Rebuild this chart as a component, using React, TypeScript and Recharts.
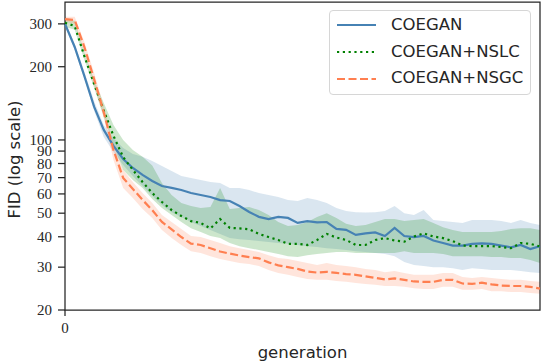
import { ComposedChart, Line, Area, XAxis, YAxis, Legend, ReferenceArea } from 'recharts'

// generations 0..49
const generations = [
  0, 1, 2, 3, 4, 5, 6, 7, 8, 9, 10, 11, 12, 13, 14, 15, 16, 17, 18, 19,
  20, 21, 22, 23, 24, 25, 26, 27, 28, 29, 30, 31, 32, 33, 34, 35, 36, 37, 38, 39,
  40, 41, 42, 43, 44, 45, 46, 47, 48, 49,
]

// COEGAN (mean + band)
const coegan = [
  300, 241, 183, 137, 110, 94.5, 83.5, 76.7, 71.8, 67.8,
  64.7, 63.5, 62.3, 60.5, 59.4, 58.3, 56.6, 56.1, 53.5, 50.6,
  48.3, 47.3, 48.3, 47.8, 45.6, 46.4, 45.8, 46.0, 43.1, 42.7,
  40.7, 41.3, 41.7, 40.3, 43.5, 40.3, 39.9, 40.3, 38.6, 37.7,
  36.8, 36.8, 37.4, 37.6, 37.4, 36.8, 36.2, 37.0, 35.6, 36.6,
]
const coeganLo = [
  292, 234.8, 178.4, 131.7, 102.9, 89.3, 78.9, 71.1, 64.6, 58.8,
  54.0, 50.5, 48.2, 46.0, 44.3, 42.6, 41.1, 39.5, 39.1, 38.8,
  38.4, 38.1, 37.7, 37.4, 37.0, 36.6, 36.3, 35.9, 35.6, 35.3,
  34.9, 34.6, 34.3, 34.0, 33.3, 31.5, 30.6, 30.3, 30.0, 30.0,
  29.7, 29.2, 29.7, 29.5, 29.2, 29.2, 29.2, 28.9, 28.6, 28.4,
]
const coeganHi = [
  309, 248.7, 190.6, 144.7, 115.3, 101.9, 92.7, 87.6, 85.2, 82.0,
  78.2, 74.6, 71.1, 69.8, 68.5, 67.2, 66.5, 63.5, 63.5, 62.3,
  60.5, 59.4, 58.3, 56.6, 56.1, 57.7, 56.6, 55.1, 52.5, 51.0,
  50.5, 50.3, 50.5, 51.0, 53.5, 50.0, 49.1, 51.5, 46.9, 46.4,
  46.0, 45.6, 46.9, 46.9, 46.9, 46.4, 45.6, 46.9, 45.6, 44.7,
]

// COEGAN+NSLC
const nslc = [
  303, 294, 221, 170, 132, 104, 85, 75.3, 67.2, 60.5,
  55.6, 51.5, 48.7, 46.4, 45.6, 43.3, 47.3, 43.5, 43.3, 42.9,
  41.1, 39.9, 38.8, 37.4, 37.4, 37.0, 38.8, 41.1, 39.7, 38.8,
  37.0, 37.0, 38.8, 39.5, 38.6, 38.2, 40.1, 41.3, 40.1, 39.5,
  38.4, 36.8, 36.6, 36.6, 36.6, 36.3, 35.9, 37.7, 37.4, 36.5,
]
const nslcLo = [
  292, 284, 213.5, 164, 124.4, 95.4, 75.3, 68.5, 63.5, 57.2,
  52.5, 49.1, 46.0, 43.4, 41.8, 40.3, 39.5, 37.7, 36.6, 35.9,
  35.3, 34.6, 34.0, 33.3, 33.0, 33.6, 34.0, 34.3, 34.6, 34.6,
  34.3, 34.3, 34.3, 34.3, 34.3, 34.9, 34.3, 34.3, 34.3, 34.0,
  33.3, 33.3, 33.3, 33.3, 33.0, 33.0, 32.7, 32.7, 32.1, 31.2,
]
const nslcHi = [
  312, 309, 230, 176.7, 141.9, 115.3, 100, 91, 85.2, 78.5,
  66.5, 59.4, 55.1, 53.5, 52.5, 53.0, 63.5, 52.0, 52.5, 53.0,
  51.5, 49.1, 46.0, 44.3, 44.7, 46.0, 48.2, 50.0, 47.8, 45.2,
  44.3, 44.7, 46.0, 47.3, 47.3, 46.4, 46.9, 47.3, 45.6, 43.8,
  42.6, 41.8, 41.8, 41.8, 41.8, 42.2, 43.0, 43.4, 43.4, 42.6,
]

// COEGAN+NSGC
const nsgc = [
  314, 311, 241, 178, 130, 91, 69.8, 62.9, 56.7, 51.5,
  46.0, 42.9, 39.9, 37.5, 37.0, 35.9, 34.8, 34.1, 33.5, 33.0,
  32.6, 31.4, 30.5, 30.0, 29.5, 28.8, 28.5, 28.7, 28.4, 28.1,
  27.9, 27.5, 27.1, 26.7, 27.0, 26.6, 26.2, 26.1, 26.1, 26.6,
  26.6, 25.7, 25.6, 25.9, 25.5, 25.2, 25.1, 25.1, 24.9, 24.5,
]
const nsgcLo = [
  306, 300, 230, 168.4, 123.2, 82.7, 63.5, 57.7, 52.0, 47.8,
  42.6, 39.5, 37.0, 34.9, 34.3, 33.3, 32.4, 31.8, 31.2, 30.9,
  30.3, 29.2, 28.4, 27.9, 27.3, 26.8, 26.6, 26.6, 26.3, 26.1,
  25.8, 25.6, 25.4, 25.1, 25.1, 24.9, 24.6, 24.4, 24.4, 24.9,
  24.9, 24.2, 24.2, 24.4, 23.9, 23.9, 23.7, 23.7, 23.5, 23.3,
]
const nsgcHi = [
  321, 321, 253, 188.9, 138, 95.4, 75.3, 67.2, 60.5, 55.1,
  49.1, 46.0, 43.0, 40.3, 39.9, 38.8, 37.7, 36.6, 35.9, 35.3,
  34.6, 33.6, 32.7, 32.4, 31.8, 31.2, 30.6, 31.2, 30.6, 30.3,
  30.0, 29.5, 29.2, 28.6, 28.9, 28.4, 27.9, 27.9, 27.9, 28.4,
  28.4, 27.3, 27.1, 27.3, 27.1, 26.8, 26.6, 26.6, 26.3, 26.1,
]

const yTicks = [20, 30, 40, 50, 60, 70, 80, 90, 100, 200, 300]
const xTicks = [0]

const SERIES = [
  { key: 'coegan', name: 'COEGAN', color: '#4682b4', dash: undefined as string | undefined },
  { key: 'nslc', name: 'COEGAN+NSLC', color: '#008000', dash: '2.2 3.6' },
  { key: 'nsgc', name: 'COEGAN+NSGC', color: '#ff7f50', dash: '8 3.5' },
]

const data = generations.map((g, i) => ({
  gen: g,
  coegan: coegan[i],
  nslc: nslc[i],
  nsgc: nsgc[i],
  coeganBand: [coeganLo[i], coeganHi[i]],
  nslcBand: [nslcLo[i], nslcHi[i]],
  nsgcBand: [nsgcLo[i], nsgcHi[i]],
}))

const INK = '#262626'
const SANS = '"DejaVu Sans", sans-serif'
const SERIF = '"Liberation Serif", serif'

const renderLegend = () => (
  <div style={{
    width: 202, height: 85, boxSizing: 'border-box',
    border: '1px solid #d6d6d6', borderRadius: 4,
    background: 'rgba(255,255,255,0.8)', paddingTop: 1,
  }}>
    {SERIES.map(s => (
      <div key={s.key} style={{ display: 'flex', alignItems: 'center', height: 26.7 }}>
        <svg width={39} height={6} style={{ marginLeft: 7 }}>
          <line x1={0} x2={39} y1={3} y2={3} stroke={s.color} strokeWidth={2.2} strokeDasharray={s.dash} />
        </svg>
        <span style={{ marginLeft: 15, fontFamily: SANS, fontSize: 16.5, color: INK, lineHeight: '26.7px' }}>
          {s.name}
        </span>
      </div>
    ))}
  </div>
)

// serif tick labels (LaTeX-like numbers)
const YTick = (p: any) => (
  <text x={p.x} y={p.y} textAnchor="end" dominantBaseline="central"
    style={{ fontFamily: SERIF, fontSize: 15, fill: INK }}>
    {p.payload.value}
  </text>
)
const XTick = (p: any) => (
  <text x={p.x} y={p.y + 12} textAnchor="middle"
    style={{ fontFamily: SERIF, fontSize: 15, fill: INK }}>
    {p.payload.value}
  </text>
)

const YLabel = (p: any) => {
  const vb = p.viewBox
  const cx = vb.x + 14
  const cy = vb.y + vb.height / 2 + 3.5
  return (
    <text x={cx} y={cy} transform={`rotate(-90 ${cx} ${cy})`} textAnchor="middle" dominantBaseline="central"
      fill={INK} fontSize={16.5} fontFamily={SANS}>
      FID (log scale)
    </text>
  )
}

const XLabel = (p: any) => {
  const vb = p.viewBox
  return (
    <text x={vb.x + vb.width / 2} y={vb.y + vb.height - 4} textAnchor="middle"
      fill={INK} fontSize={16.5} fontFamily={SANS}>
      generation
    </text>
  )
}

export default function App() {
  return (
    <div style={{ position: 'absolute', left: 0, top: 0, background: '#fff' }}>
      <ComposedChart width={544} height={362} data={data}
        margin={{ top: 2, right: 4, left: 0, bottom: 0 }}>
        <XAxis
          dataKey="gen" type="number" domain={[0, 49]} ticks={xTicks} interval={0}
          height={52} tickSize={6} tickMargin={5} axisLine={false}
          tickLine={{ stroke: INK, strokeWidth: 1.25 }}
          tick={XTick}
          label={{ content: XLabel }}
        />
        <YAxis
          scale="log" domain={[20, 369]} allowDataOverflow ticks={yTicks} interval={0}
          width={65} tickSize={7} tickMargin={6} axisLine={false}
          tickLine={{ stroke: INK, strokeWidth: 1.25 }}
          tick={YTick}
          label={{ content: YLabel }}
        />

        {/* spread bands */}
        <Area dataKey="coeganBand" type="linear" stroke="none" fill="#4682b4" fillOpacity={0.2}
          isAnimationActive={false} activeDot={false} legendType="none" />
        <Area dataKey="nslcBand" type="linear" stroke="none" fill="#008000" fillOpacity={0.2}
          isAnimationActive={false} activeDot={false} legendType="none" />
        <Area dataKey="nsgcBand" type="linear" stroke="none" fill="#ff7f50" fillOpacity={0.2}
          isAnimationActive={false} activeDot={false} legendType="none" />

        {SERIES.map(s => (
          <Line key={s.key} dataKey={s.key} name={s.name} type="linear" stroke={s.color}
            strokeWidth={2.2} strokeDasharray={s.dash} dot={false} activeDot={false}
            isAnimationActive={false} />
        ))}

        {/* axes frame */}
        <ReferenceArea x1={0} x2={49} y1={20} y2={369} fill="none" fillOpacity={0}
          stroke={INK} strokeWidth={1.25} ifOverflow="visible" />

        <Legend layout="horizontal" verticalAlign="middle" align="center" content={renderLegend}
          wrapperStyle={{ left: 329, top: 10, width: 202, height: 85 }} />
      </ComposedChart>
    </div>
  )
}
